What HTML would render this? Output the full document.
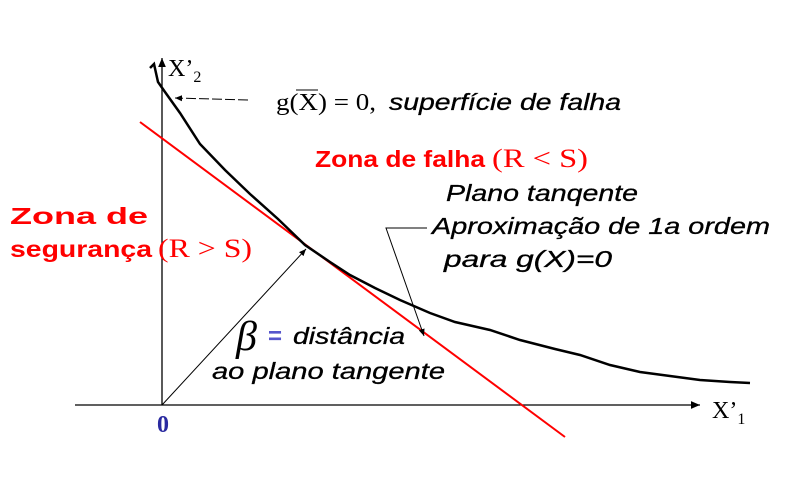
<!DOCTYPE html>
<html><head><meta charset="utf-8"><style>
body{margin:0;background:#fff;width:799px;height:485px;overflow:hidden}
svg{display:block}
.s{font-family:"Liberation Sans",sans-serif;font-style:italic;font-size:23px;stroke:#000;stroke-width:0.3}
.r{font-family:"Liberation Sans",sans-serif;font-weight:bold;font-size:23px;fill:#f00}
.t{font-family:"Liberation Serif",serif;font-size:24px}
</style></head><body>
<svg width="799" height="485" viewBox="0 0 799 485">
<defs><marker id="ah" markerWidth="8" markerHeight="8" refX="7" refY="4" orient="auto"><path d="M0,1 L7,4 L0,7 z" fill="#000"/></marker></defs>
<line x1="75" y1="405" x2="700" y2="405" stroke="#000" stroke-width="1.3" marker-end="url(#ah)"/>
<line x1="162" y1="405" x2="162" y2="58" stroke="#000" stroke-width="1.3" marker-end="url(#ah)"/>
<text x="712" y="418" class="t">X’<tspan font-size="16" dy="6">1</tspan></text>
<text x="168" y="76" class="t">X’<tspan font-size="16" dy="6">2</tspan></text>
<text x="157" y="432" font-family="Liberation Serif,serif" font-weight="bold" font-size="24" fill="#2a2aa0">0</text>
<line x1="140" y1="122" x2="565" y2="437" stroke="#f00" stroke-width="2"/>
<polyline id="curve" fill="none" stroke="#000" stroke-width="2.5"/>
<line x1="162" y1="405" x2="306" y2="249" stroke="#000" stroke-width="1" marker-end="url(#ah)"/>
<line x1="248" y1="100" x2="175" y2="98" stroke="#000" stroke-width="1" stroke-dasharray="10,3" marker-end="url(#ah)"/>
<polyline points="427,228 386,228 424,336" fill="none" stroke="#000" stroke-width="1" marker-end="url(#ah)"/>
<text x="276" y="110" class="t" textLength="100" lengthAdjust="spacingAndGlyphs">g(X) = 0,</text>
<line x1="296" y1="90" x2="318" y2="90" stroke="#000" stroke-width="1"/>
<text x="389" y="110" class="s" textLength="232" lengthAdjust="spacingAndGlyphs">superfície de falha</text>
<text x="315" y="167" class="r" textLength="170" lengthAdjust="spacingAndGlyphs">Zona de falha</text>
<text x="492" y="167" font-family="Liberation Serif,serif" font-size="26" fill="#f00" textLength="96" lengthAdjust="spacingAndGlyphs">(R &lt; S)</text>
<text x="10" y="224" class="r" textLength="138" lengthAdjust="spacingAndGlyphs">Zona de</text>
<text x="10" y="257" class="r" textLength="142" lengthAdjust="spacingAndGlyphs">segurança</text>
<text x="158" y="257" font-family="Liberation Serif,serif" font-size="26" fill="#f00" textLength="94" lengthAdjust="spacingAndGlyphs">(R &gt; S)</text>
<text x="446" y="201" class="s" textLength="192" lengthAdjust="spacingAndGlyphs">Plano tanqente</text>
<text x="432" y="234" class="s" textLength="338" lengthAdjust="spacingAndGlyphs">Aproximação de 1a ordem</text>
<text x="444" y="267" class="s" textLength="168" lengthAdjust="spacingAndGlyphs">para g(X)=0</text>
<text x="236" y="350" font-family="Liberation Serif,serif" font-style="italic" font-size="42">β</text>
<text x="268" y="344" font-family="Liberation Sans,sans-serif" font-weight="bold" font-size="24" fill="#5555cc">=</text>
<text x="293" y="344" class="s" textLength="112" lengthAdjust="spacingAndGlyphs">distância</text>
<text x="212" y="379" class="s" textLength="233" lengthAdjust="spacingAndGlyphs">ao plano tangente</text>
</svg>
<script>
const curveX=[150,154,158,165,180,200,225,250,278,305,330,350,375,400,430,455,490,520,555,580,610,640,670,700,730,750];
const curveY=[68,64,82,92,113,144,170,194,219,245,262,275,288,300,313,322,330,340,349,355,365,372,376,380,382,383];
document.getElementById('curve').setAttribute('points',curveX.map((x,i)=>x+','+curveY[i]).join(' '));
</script>
</body></html>
